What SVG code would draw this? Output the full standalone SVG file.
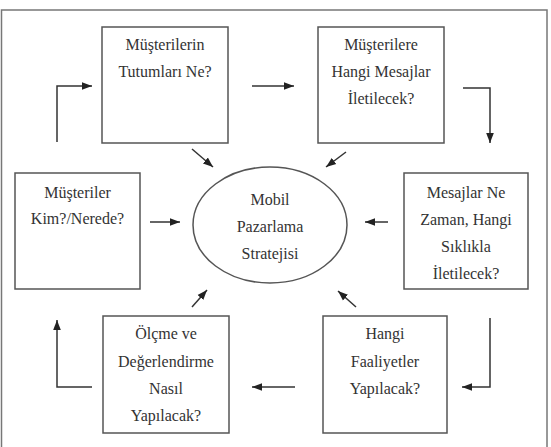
<svg xmlns="http://www.w3.org/2000/svg" width="551" height="447" viewBox="0 0 551 447">
<defs>
<style>
.box{fill:#fff;stroke:#555;stroke-width:1.5}
.frame{fill:#fff;stroke:#777;stroke-width:1.5}
text{font-family:'Liberation Serif','Times New Roman',Times,serif;font-size:16px;fill:#333;text-anchor:middle;dominant-baseline:central}
.c{fill:none;stroke:#333;stroke-width:1.5}
</style>
<marker id="ah" markerUnits="userSpaceOnUse" markerWidth="10" markerHeight="10" viewBox="0 0 10 10" refX="10" refY="5" orient="auto">
<path d="M0,1.2 L10,5 L0,8.8 Z" fill="#222"/>
</marker>
</defs>
<rect class="frame" x="1.5" y="10" width="545.5" height="440"/>
<g id="n1"><rect class="box" x="102" y="27" width="126" height="116"/>
<text x="165" y="44">Müşterilerin</text><text x="165" y="71">Tutumları Ne?</text></g>
<g id="n2"><rect class="box" x="318" y="27" width="126" height="116"/>
<text x="381" y="44">Müşterilere</text><text x="381" y="71">Hangi Mesajlar</text><text x="381" y="98">İletilecek?</text></g>
<g id="n3"><rect class="box" x="15" y="173" width="125" height="116"/>
<text x="77.5" y="192">Müşteriler</text><text x="77.5" y="218">Kim?/Nerede?</text></g>
<g id="n4"><rect class="box" x="404" y="173" width="124" height="116"/>
<text x="466" y="192">Mesajlar Ne</text><text x="466" y="219">Zaman, Hangi</text><text x="466" y="246">Sıklıkla</text><text x="466" y="273">İletilecek?</text></g>
<g id="n5"><rect class="box" x="103" y="316" width="126" height="117"/>
<text x="166" y="333">Ölçme ve</text><text x="166" y="361">Değerlendirme</text><text x="166" y="388">Nasıl</text><text x="166" y="415">Yapılacak?</text></g>
<g id="n6"><rect class="box" x="323" y="316" width="124" height="117"/>
<text x="385" y="333">Hangi</text><text x="385" y="361">Faaliyetler</text><text x="385" y="388">Yapılacak?</text></g>
<g id="center"><ellipse class="box" cx="270" cy="225" rx="77" ry="58"/>
<text x="270" y="199">Mobil</text><text x="270" y="226">Pazarlama</text><text x="270" y="253">Stratejisi</text></g>
<g id="connectors">
<path class="c" d="M57,142 V86 H92" marker-end="url(#ah)"/>
<path class="c" d="M252,86 H294" marker-end="url(#ah)"/>
<path class="c" d="M463,88 H490 V143" marker-end="url(#ah)"/>
<path class="c" d="M490,318 V387 H462" marker-end="url(#ah)"/>
<path class="c" d="M295,387 H252" marker-end="url(#ah)"/>
<path class="c" d="M92,387 H57 V320" marker-end="url(#ah)"/>
<path class="c" d="M192,149 L213,167" marker-end="url(#ah)"/>
<path class="c" d="M346,152 L326,167" marker-end="url(#ah)"/>
<path class="c" d="M150,222 H180" marker-end="url(#ah)"/>
<path class="c" d="M388,222 H365" marker-end="url(#ah)"/>
<path class="c" d="M192,307 L207,290" marker-end="url(#ah)"/>
<path class="c" d="M356,307 L338,291" marker-end="url(#ah)"/>
</g>
</svg>
